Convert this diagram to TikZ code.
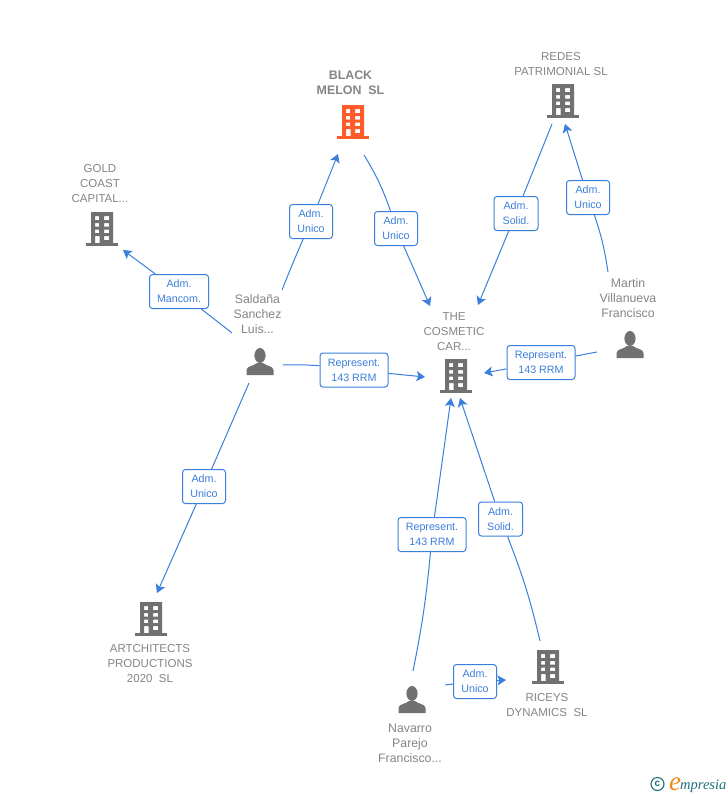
\documentclass[tikz,border=0pt]{standalone}
\usepackage{fontspec}
\setmainfont{Liberation Sans}
\newfontfamily\logofont{Liberation Serif}
\usetikzlibrary{arrows.meta}
\definecolor{linkblue}{HTML}{3B7FDC}
\definecolor{txtgray}{HTML}{858585}
\definecolor{icongray}{HTML}{717171}
\definecolor{melon}{HTML}{FF5B2B}
\definecolor{logoteal}{HTML}{1F6F7F}
\definecolor{logoorange}{HTML}{F08A1D}
\tikzset{
  x=1pt,y=-1pt,
  link/.style={draw=linkblue,line width=1pt},
  arrowlink/.style={link,-{Stealth[length=8.5pt,width=10pt,inset=2pt]}},
  relbox/.style={draw=linkblue,line width=1pt,rounded corners=3pt,fill=white,text=linkblue,
    font=\fontsize{10.7}{15}\selectfont,align=center,minimum height=34pt,inner sep=0pt},
  company/.style={text=txtgray,font=\fontsize{11.5}{15}\selectfont,align=center,inner sep=0pt},
  person/.style={text=txtgray,font=\fontsize{12.3}{15}\selectfont,align=center,inner sep=0pt},
  pics/building/.style={code={
    \fill[#1,even odd rule] (-11,-17) rectangle (11,15)
      (-7,-13) rectangle (-3,-9) (2,-13) rectangle (7,-9)
      (-7,-6) rectangle (-3,-2.5) (2,-6) rectangle (7,-2.5)
      (-7,0.5) rectangle (-3,4) (2,0.5) rectangle (7,4)
      (-7,7) rectangle (-2.5,15) (2,7) rectangle (7,11);
    \fill[#1] (-16,14) rectangle (16,16.5);
  }},
  pics/personicon/.style={code={
    \fill[icongray] (0,-6.5) ellipse (5.6 and 7.5);
    \fill[icongray] (-13.5,13) -- (-13.5,8) .. controls (-13.5,4) and (-6,4) .. (-3,1)
      -- (3,1) .. controls (6,4) and (13.5,4) .. (13.5,8) -- (13.5,13) -- cycle;
  }},
}
\begin{document}
\begin{tikzpicture}
\useasboundingbox[fill=white] (0,0) rectangle (728,795);

% icons
\coordinate (goldI) at (102,229); \pic at (goldI) {building=icongray};
\coordinate (melonI) at (353,122); \pic at (melonI) {building=melon};
\coordinate (redesI) at (563,101); \pic at (redesI) {building=icongray};
\coordinate (cosmI) at (456,376); \pic at (cosmI) {building=icongray};
\coordinate (archI) at (151,619); \pic at (archI) {building=icongray};
\coordinate (riceI) at (548,667); \pic at (riceI) {building=icongray};
\coordinate (saldI) at (260,362); \pic at (saldI) {personicon};
\coordinate (martI) at (630,345); \pic at (martI) {personicon};
\coordinate (navaI) at (412,700); \pic at (navaI) {personicon};

% entity labels
\node[company] (goldL) at (100,184) {GOLD\\COAST\\CAPITAL...};
\node[company,font=\fontsize{12.4}{15}\selectfont\bfseries] (melonL) at (350.5,83) {BLACK\\MELON\ \ SL};
\node[company] (redesL) at (561,64) {REDES\\PATRIMONIAL SL};
\node[company] (cosmL) at (454,332) {THE\\COSMETIC\\CAR...};
\node[company] (archL) at (150,664) {ARTCHITECTS\\PRODUCTIONS\\2020\ \ SL};
\node[company] (riceL) at (547,705) {RICEYS\\DYNAMICS\ \ SL};
\node[person] (saldL) at (257.5,314) {Saldaña\\Sanchez\\Luis...};
\node[person] (martL) at (628,298) {Martin\\Villanueva\\Francisco};
\node[person] (navaL) at (410,743) {Navarro\\Parejo\\Francisco...};

% connector ends
\coordinate (a1) at (232,333); \coordinate (a2) at (123,250);
\coordinate (b1) at (282,290); \coordinate (b2) at (338,154);
\coordinate (c1) at (364,155); \coordinate (c2) at (430,306);
\coordinate (d1) at (552,124); \coordinate (d2) at (478,305);
\coordinate (e1) at (608,272); \coordinate (e2) at (565,124);
\coordinate (f1) at (597,352); \coordinate (f2) at (484,373);
\coordinate (g1) at (283,365); \coordinate (g2) at (425,377);
\coordinate (h1) at (249,383); \coordinate (h2) at (157,593);
\coordinate (i1) at (413,671); \coordinate (i2) at (451,398);
\coordinate (j1) at (540,641); \coordinate (j2) at (460,398);
\coordinate (k1) at (445,685); \coordinate (k2) at (506,680);

% relation boxes
\node[relbox,minimum width=59pt] (ra) at (179,291.5) {Adm.\\Mancom.};
\node[relbox,minimum width=43pt] (rb) at (311,221.5) {Adm.\\Unico};
\node[relbox,minimum width=43pt] (rc) at (396,228.5) {Adm.\\Unico};
\node[relbox,minimum width=44pt] (rd) at (516,213.5) {Adm.\\Solid.};
\node[relbox,minimum width=43pt] (re) at (588,197.5) {Adm.\\Unico};
\node[relbox,minimum width=68pt] (rf) at (541,362.5) {Represent.\\143 RRM};
\node[relbox,minimum width=68pt] (rg) at (354,370) {Represent.\\143 RRM};
\node[relbox,minimum width=43pt] (rh) at (204,486.5) {Adm.\\Unico};
\node[relbox,minimum width=68pt] (ri) at (432,534.5) {Represent.\\143 RRM};
\node[relbox,minimum width=44pt] (rj) at (500.5,519) {Adm.\\Solid.};
\node[relbox,minimum width=43pt] (rk) at (475,681.5) {Adm.\\Unico};

% connectors
\draw[link] (a1) -- (ra);
\draw[arrowlink] (ra) -- (a2);
\draw[link] (b1) to[bend left=1] (rb);
\draw[arrowlink] (rb) -- (b2);
\draw[link] (c1) to[bend left=6] (rc);
\draw[arrowlink] (rc) -- (c2);
\draw[link] (d1) -- (rd);
\draw[arrowlink] (rd) -- (d2);
\draw[link] (e1) to[bend right=5] (re);
\draw[arrowlink] (re) -- (e2);
\draw[link] (f1) -- (rf);
\draw[arrowlink] (rf) -- (f2);
\draw[link] (g1) to[bend left=3] (rg);
\draw[arrowlink] (rg) -- (g2);
\draw[link] (h1) -- (rh);
\draw[arrowlink] (rh) -- (h2);
\draw[link] (i1) to[bend right=3] (ri);
\draw[arrowlink] (ri) -- (i2);
\draw[link] (j1) to[bend right=4] (rj);
\draw[arrowlink] (rj) -- (j2);
\draw[link] (k1) -- (rk);
\draw[arrowlink] (rk) -- (k2);

% logo
\node[circle,draw=logoteal,line width=1.1pt,minimum size=13pt,inner sep=0pt,text=logoteal,
  font=\fontsize{10}{10}\selectfont\bfseries] (copy) at (657.5,784) {c};
\node[inner sep=0pt,anchor=base west,text=logoorange,
  font=\logofont\itshape\fontsize{27}{27}\selectfont] (loge) at (669,790) {e};
\node[inner sep=0pt,anchor=base west,text=logoteal,
  font=\logofont\itshape\fontsize{14.5}{15}\selectfont] (logt) at (680,789) {mpresia};
\end{tikzpicture}
\end{document}
